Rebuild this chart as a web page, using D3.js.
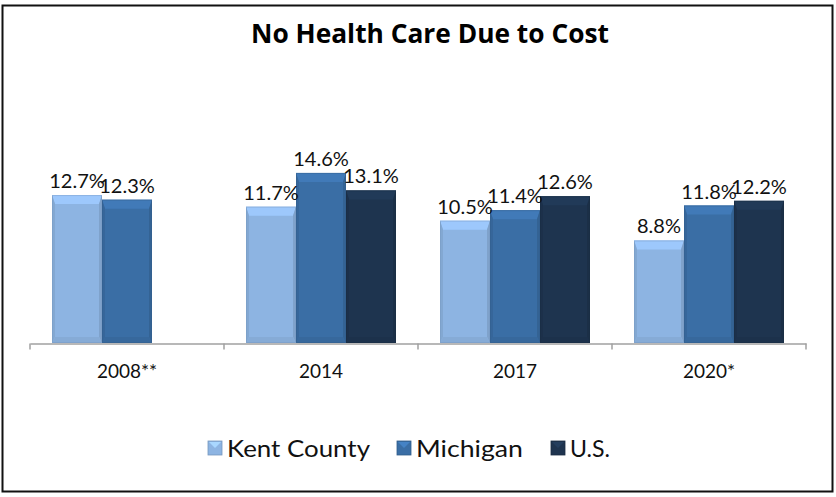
<!DOCTYPE html>
<html>
<head>
<meta charset="utf-8">
<script src="https://cdn.jsdelivr.net/npm/d3@7"></script>
<style>
    body { margin: 0; background: #fff; }
    svg { display: block; }
    .lbl { font-family: "Century Gothic", Lato, sans-serif; fill: #111; }
</style>
</head>
<body>
<svg id="chart"></svg>
<script>
const categories = ['2008**', '2014', '2017', '2020*'];
const seriesNames = ['Kent County', 'Michigan', 'U.S.'];
const kentValues = [12.7, 11.7, 10.5, 8.8];
const michiganValues = [12.3, 14.6, 11.4, 11.8];
const usValues = [null, 13.1, 12.6, 12.2];
const seriesColors = ['#8db4e2', '#3a6ea5', '#1e344f'];

const width = 836;
const height = 497;
const axisY = 343;
const plot = {left: 30, right: 806};

const svg = d3.select('#chart')
    .attr('width', width)
    .attr('height', height);

svg.append('rect')
    .attr('x', 2.5).attr('y', 5.5)
    .attr('width', 830).attr('height', 486)
    .attr('fill', '#fff')
    .attr('stroke', '#111')
    .attr('stroke-width', 2);

svg.append('text')
    .attr('x', 430).attr('y', 43)
    .attr('text-anchor', 'middle')
    .attr('textLength', 358)
    .attr('lengthAdjust', 'spacingAndGlyphs')
    .style('font-family', '"Open Sans", sans-serif')
    .style('font-weight', 'bold')
    .style('font-size', '27px')
    .text('No Health Care Due to Cost');

const xScale = d3.scaleBand().domain(categories).range([plot.left, plot.right]);
const slotScale = d3.scaleBand().domain(seriesNames).range([22, 172]);
const yScale = d3.scaleLinear().domain([0, 16]).range([axisY, axisY - 16 * 11.65]);

const rows = [];
const allSeries = [kentValues, michiganValues, usValues];
categories.forEach((c, i) => {
    seriesNames.forEach((s, j) => {
        const v = allSeries[j][i];
        if (v != null) rows.push({cat: c, series: s, idx: j, value: v});
    });
});

const xAxis = d3.axisBottom(xScale).tickSize(0).tickFormat('');
const axisG = svg.append('g')
    .attr('transform', `translate(0, ${axisY + 0.5})`)
    .call(xAxis);
axisG.select('.domain').attr('stroke', '#a0a0a0').attr('stroke-width', 1.5);
axisG.selectAll('.sep')
    .data(d3.range(categories.length + 1))
    .enter()
    .append('line')
    .attr('x1', i => i < categories.length ? xScale(categories[i]) : plot.right)
    .attr('x2', i => i < categories.length ? xScale(categories[i]) : plot.right)
    .attr('y1', 0).attr('y2', 6)
    .attr('stroke', '#a0a0a0').attr('stroke-width', 1.5);

svg.selectAll('.cat')
    .data(categories)
    .enter()
    .append('text')
    .attr('class', 'lbl')
    .attr('x', d => xScale(d) + xScale.bandwidth() / 2)
    .attr('y', 378)
    .attr('text-anchor', 'middle')
    .style('font-size', '19px')
    .text(d => d);

// bevelled bars, drawn from the scales
const bars = svg.selectAll('.bar')
    .data(rows)
    .enter()
    .append('g')
    .attr('class', 'bar');

bars.each(function (d) {
    const g = d3.select(this);
    const x = xScale(d.cat) + slotScale(d.series);
    const w = slotScale.bandwidth();
    const y = yScale(d.value);
    const h = yScale(0) - y;
    const base = d3.color(seriesColors[d.idx]);
    const top = 9, side = 3, bot = 6;
    g.append('rect').attr('x', x).attr('y', y).attr('width', w).attr('height', h).attr('fill', base);
    g.append('path')
        .attr('d', `M${x},${y}L${x + w},${y}L${x + w - side},${y + top}L${x + side},${y + top}Z`)
        .attr('fill', base.brighter(0.3));
    g.append('path')
        .attr('d', `M${x},${y}L${x + side},${y + top}L${x + side},${y + h - bot}L${x},${y + h}Z`)
        .attr('fill', base.darker(0.2));
    g.append('path')
        .attr('d', `M${x + w},${y}L${x + w - side},${y + top}L${x + w - side},${y + h - bot}L${x + w},${y + h}Z`)
        .attr('fill', base.darker(0.3));
    g.append('path')
        .attr('d', `M${x},${y + h}L${x + side},${y + h - bot}L${x + w - side},${y + h - bot}L${x + w},${y + h}Z`)
        .attr('fill', base.darker(0.15));
    g.append('rect').attr('x', x + 0.5).attr('y', y + 0.5).attr('width', w - 1).attr('height', h - 1)
        .attr('fill', 'none').attr('stroke', base.darker(0.5)).attr('stroke-opacity', 0.4);
});

svg.selectAll('.val')
    .data(rows)
    .enter()
    .append('text')
    .attr('class', 'lbl')
    .attr('x', d => xScale(d.cat) + slotScale(d.series) + slotScale.bandwidth() / 2)
    .attr('y', d => yScale(d.value) - 7)
    .attr('text-anchor', 'middle')
    .style('font-size', '20px')
    .text(d => d.value.toFixed(1) + '%');

// legend
const legendX = [208, 397, 551];
const legendWidths = [143, 107, 40];
const legend = svg.selectAll('.legend')
    .data(seriesNames)
    .enter()
    .append('g')
    .attr('transform', (d, i) => `translate(${legendX[i]}, 441)`);
legend.append('rect')
    .attr('width', 14).attr('height', 14)
    .attr('fill', (d, i) => seriesColors[i])
    .attr('stroke', (d, i) => d3.color(seriesColors[i]).darker(0.5))
    .attr('stroke-width', 0.8);
legend.append('path')
    .attr('d', 'M1,1L13,1L7,7Z')
    .attr('fill', (d, i) => d3.color(seriesColors[i]).brighter(0.5));
legend.append('text')
    .attr('class', 'lbl')
    .attr('x', 19).attr('y', 16)
    .attr('textLength', (d, i) => legendWidths[i])
    .attr('lengthAdjust', 'spacingAndGlyphs')
    .style('font-size', '23px')
    .text(d => d);
</script>
</body>
</html>
